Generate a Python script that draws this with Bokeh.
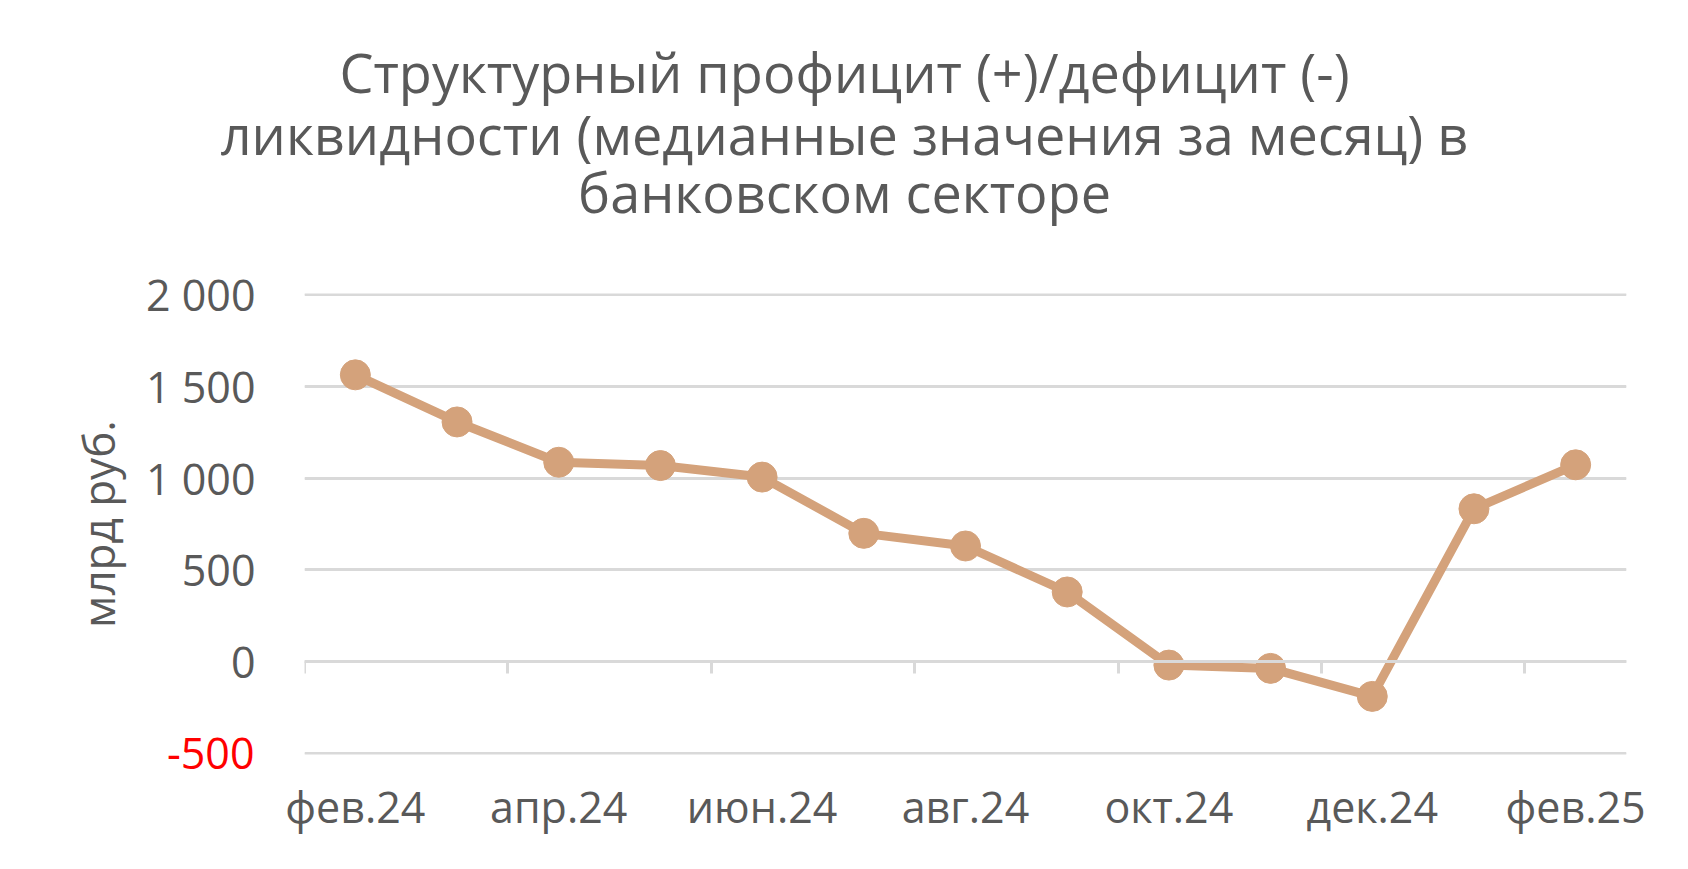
from bokeh.plotting import figure
from bokeh.models import Range1d, FixedTicker, LinearAxis, Grid, ColumnDataSource
from bokeh.core.properties import value
from bokeh.embed import file_html
from bokeh.resources import INLINE

# ---- data ----
months = ["фев.24", "мар.24", "апр.24", "май.24", "июн.24", "июл.24", "авг.24",
          "сен.24", "окт.24", "ноя.24", "дек.24", "янв.25", "фев.25"]
values = [1564, 1307, 1087, 1069, 1006, 699, 630, 379, -20, -38, -191, 833, 1073]
y_ticks = [-500, 0, 500, 1000, 1500, 2000]
y_tick_labels = ["-500", "0", "500", "1 000", "1 500", "2 000"]
title_lines = ["Структурный профицит (+)/дефицит (-)",
               "ликвидности (медианные значения за месяц) в",
               "банковском секторе"]
y_label = "млрд руб."

FONT = "Open Sans"
TXT = "#595959"
GRID = "#d9d9d9"
SERIES = "#D4A27B"
W = 1688
TITLE_H = 260

# ---- title block (separate root so it is centred on the page) ----
tp = figure(width=W, height=TITLE_H, output_backend="svg", toolbar_location=None,
            title=None,
            x_range=Range1d(0, W), y_range=Range1d(0, TITLE_H), min_border=0,
            x_axis_location=None, y_axis_location=None)
tp.grid.visible = False
tp.outline_line_color = None
baselines = [71, 133, 191]
tsrc = ColumnDataSource(dict(x=[W / 2] * 3, y=[TITLE_H - b for b in baselines],
                             t=title_lines))
tp.text("x", "y", text="t", source=tsrc, text_align="center",
        text_baseline="alphabetic", text_font=value(FONT),
        text_font_size="54px", text_color=TXT)

# ---- main chart ----
idx = list(range(len(months)))
src = ColumnDataSource(dict(x=idx, y=values, m=months))

eps = 8
p = figure(width=W, height=869 - TITLE_H, output_backend="svg", toolbar_location=None,
           title=None,
           x_range=Range1d(-0.5, len(months) - 0.5),
           y_range=Range1d(y_ticks[0] - eps, y_ticks[-1] + eps),
           y_axis_location=None,
           min_border_left=304, min_border_right=62,
           min_border_top=293 - TITLE_H, min_border_bottom=115)
p.outline_line_color = None
p.background_fill_color = "white"
p.border_fill_color = "white"
p.xgrid.visible = False

# horizontal grid
ygrid = Grid(dimension=1, ticker=FixedTicker(ticks=y_ticks),
             grid_line_color=GRID, grid_line_width=3)
p.add_layout(ygrid)


def style_y(ax, standoff, color):
    ax.axis_line_color = None
    ax.major_tick_line_color = None
    ax.minor_tick_line_color = None
    ax.major_tick_out = 0
    ax.major_tick_in = 0
    ax.major_label_standoff = standoff
    ax.major_label_text_font = FONT
    ax.major_label_text_font_size = "43px"
    ax.major_label_text_color = color


# negative tick label (red) - closest to the plot
neg_ticks = [t for t in y_ticks if t < 0]
neg_axis = LinearAxis(ticker=FixedTicker(ticks=neg_ticks),
                      major_label_overrides={t: l for t, l in zip(y_ticks, y_tick_labels) if t < 0})
style_y(neg_axis, 50, "#FF0000")
p.add_layout(neg_axis, "left")

# non-negative tick labels, pulled back to line up with the red one
pos_ticks = [t for t in y_ticks if t >= 0]
main_axis = LinearAxis(ticker=FixedTicker(ticks=pos_ticks),
                       major_label_overrides={t: l for t, l in zip(y_ticks, y_tick_labels) if t >= 0})
style_y(main_axis, -92, TXT)
main_axis.axis_label = y_label
main_axis.axis_label_text_font = FONT
main_axis.axis_label_text_font_size = "44px"
main_axis.axis_label_text_font_style = "normal"
main_axis.axis_label_text_color = TXT
main_axis.axis_label_standoff = 15
p.add_layout(main_axis, "left")

# x axis labels (every second month)
p.xaxis.ticker = FixedTicker(ticks=idx[::2])
p.xaxis.major_label_overrides = {i: months[i] for i in idx[::2]}
p.xaxis.axis_line_color = None
p.xaxis.major_tick_line_color = None
p.xaxis.minor_tick_line_color = None
p.xaxis.major_label_standoff = 16
p.xaxis.major_label_text_font = FONT
p.xaxis.major_label_text_font_size = "43px"
p.xaxis.major_label_text_color = TXT

# category axis line at zero with boundary ticks
bounds = [i - 0.5 for i in idx[::2]]
zero_axis = LinearAxis(fixed_location=0, ticker=FixedTicker(ticks=bounds))
zero_axis.axis_line_color = GRID
zero_axis.axis_line_width = 3
zero_axis.major_tick_line_color = GRID
zero_axis.major_tick_line_width = 3
zero_axis.major_tick_out = 12
zero_axis.major_tick_in = 0
zero_axis.minor_tick_line_color = None
zero_axis.major_label_text_alpha = 0
zero_axis.major_label_text_font_size = "1px"
p.add_layout(zero_axis, "below")

# series
p.line("x", "y", source=src, line_color=SERIES, line_width=9, line_join="round")
p.scatter("x", "y", source=src, size=30, fill_color=SERIES, line_color=SERIES)

open("out.html", "w").write(file_html([tp, p], INLINE))
